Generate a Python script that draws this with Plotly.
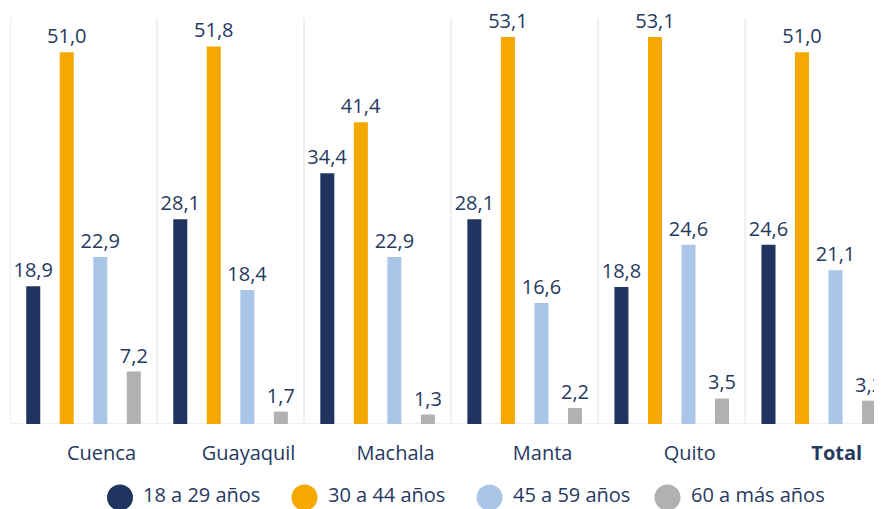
import plotly.graph_objects as go

categories = ["Cuenca", "Guayaquil", "Machala", "Manta", "Quito", "Total"]
tick_labels = ["Cuenca", "Guayaquil", "Machala", "Manta", "Quito", "<b>Total</b>"]
series_names = ["18 a 29 años", "30 a 44 años", "45 a 59 años", "60 a más años"]
s_18_29 = [18.9, 28.1, 34.4, 28.1, 18.8, 24.6]
s_30_44 = [51.0, 51.8, 41.4, 53.1, 53.1, 51.0]
s_45_59 = [22.9, 18.4, 22.9, 16.6, 24.6, 21.1]
s_60_mas = [7.2, 1.7, 1.3, 2.2, 3.5, 3.2]

series_values = [s_18_29, s_30_44, s_45_59, s_60_mas]
colors = ["#1f3560", "#f5a800", "#a9c6e9", "#b1b1b1"]
text_color = "#26395f"
font_family = "Open Sans, Lato, sans-serif"

# the page body adds an 8px offset; figure is sized to fill the rest of the window
PAGE_OFF = 8
W, H = 882 - PAGE_OFF, 509 - PAGE_OFF
M_L, M_R, M_T, M_B = 10 - PAGE_OFF, 0, 18 - PAGE_OFF, 85
plot_w = W - M_L - M_R
plot_h = H - M_T - M_B
legend_symbol_px = [120 - PAGE_OFF, 304.5 - PAGE_OFF, 489.5 - PAGE_OFF, 667.5 - PAGE_OFF]
legend_y_px = 497.5 - PAGE_OFF

fig = go.Figure()
for name, vals, col in zip(series_names, series_values, colors):
    fig.add_trace(go.Bar(
        x=categories, y=vals, name=name, marker_color=col,
        texttemplate="%{y:.1f}", textposition="outside", constraintext="none",
        textfont=dict(color=text_color, size=20, family=font_family),
        cliponaxis=False, showlegend=False,
    ))

shapes = []
for i in range(len(categories)):
    shapes.append(dict(type="line", xref="x", yref="paper", x0=i - 0.5, x1=i - 0.5,
                       y0=0, y1=1, line=dict(color="#efefef", width=2), layer="below"))
shapes.append(dict(type="line", xref="paper", yref="y", x0=0, x1=1, y0=0, y1=0,
                   line=dict(color="#efefef", width=2), layer="below"))

annotations = []
ly = (plot_h + M_T - legend_y_px) / plot_h
for name, col, px in zip(series_names, colors, legend_symbol_px):
    lx = (px - M_L) / plot_w
    shapes.append(dict(type="circle", xref="paper", yref="paper",
                       xsizemode="pixel", ysizemode="pixel", xanchor=lx, yanchor=ly,
                       x0=-13, x1=13, y0=-13, y1=13,
                       fillcolor=col, line=dict(width=0)))
    annotations.append(dict(text=name, xref="paper", yref="paper", x=lx, y=ly,
                            xanchor="left", yanchor="middle", xshift=21, yshift=3,
                            showarrow=False,
                            font=dict(size=20, color=text_color, family=font_family)))

fig.update_layout(
    template="none",
    width=W, height=H,
    margin=dict(l=M_L, r=M_R, t=M_T, b=M_B, pad=0),
    paper_bgcolor="white", plot_bgcolor="white",
    barmode="group", bargap=0.088, bargroupgap=0.582,
    separators=",.",
    font=dict(family=font_family, color=text_color, size=20),
    shapes=shapes, annotations=annotations,
    showlegend=False,
    xaxis=dict(range=[-0.5, 5.43], tickmode="array", tickvals=categories, ticktext=tick_labels,
               showgrid=False, zeroline=False, showline=False, ticks="", automargin=False,
               tickfont=dict(size=20, color=text_color, family=font_family),
               ticklabelshift=18, ticklabelstandoff=15, fixedrange=True),
    yaxis=dict(range=[0, 55.7], visible=False, showgrid=False, zeroline=False,
               automargin=False, fixedrange=True),
)

fig.write_html("out.html")
